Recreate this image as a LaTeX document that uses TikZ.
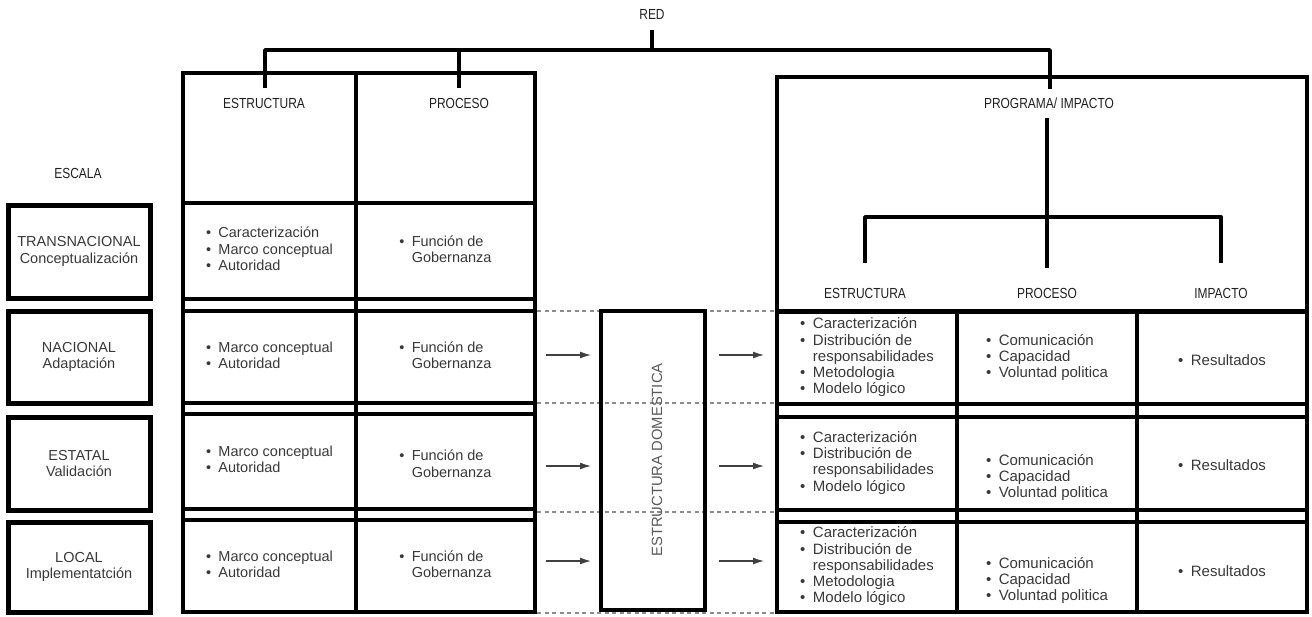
\documentclass[tikz,border=0pt]{standalone}
\usepackage{fontspec}
\setmainfont{Liberation Sans}
\newfontfamily\narrowfont[FakeStretch=0.82]{Liberation Sans}
\usetikzlibrary{arrows.meta}

% a cell given by its corners (x1,y1) and (x2,y2), in pixel units
\newcommand\cellnode[7][]{%
  \node[cell,#1,minimum width={#5-#3},minimum height={#6-#4}]
    (#2) at ({(#3+#5)/2},{(#4+#6)/2}) {#7};}
% bullet lists
\newcommand\blist[1]{\begin{tabular}{@{}l@{\hspace{0.5em}}l@{}}#1\end{tabular}}
\newcommand\bu{\textbullet&}
\newcommand\nx{&}

\begin{document}
\begin{tikzpicture}[x=1pt,y=-1pt,
  cell/.style={draw=black,line width=3.6pt,inner sep=0pt,outer sep=0pt,
    font=\fontsize{14.5}{16.3}\selectfont,text=black!78,align=center},
  rcell/.style={cell,font=\fontsize{15}{16.2}\selectfont},
  scalecell/.style={cell,line width=5pt},
  edge/.style={draw=black,line width=3.6pt},
  tree/.style={draw=black,line width=3.8pt,line join=round},
  head/.style={font=\narrowfont\fontsize{14.6}{16}\selectfont,text=black!88,inner sep=0pt},
  guide/.style={draw=black!45,line width=1.1pt,dash pattern=on 4pt off 3.5pt},
  flow/.style={draw=black!75,line width=1.3pt,-{Latex[length=11pt,width=7pt]}},
]
\useasboundingbox (0,0) rectangle (1312,616);

% ---- headings and network tree ----
\node[head] (red) at (652,14) {RED};
\node[head] (escala) at (78,173) {ESCALA};
\node[head] (hEst) at (264,103) {ESTRUCTURA};
\node[head] (hPro) at (459,103) {PROCESO};
\node[head] (hPrg) at (1049,103) {PROGRAMA/ IMPACTO};

\coordinate (r0) at (652,30);
\coordinate (bar) at (652,50);
\coordinate (tL) at (265,88);
\coordinate (tM) at (459,88);
\coordinate (tR) at (1050,89);

% ---- scale boxes ----
\cellnode[scalecell]{sT}{8}{205}{150}{298}{TRANSNACIONAL\\Conceptualización}
\cellnode[scalecell]{sN}{8}{311}{150}{403}{NACIONAL\\Adaptación}
\cellnode[scalecell]{sE}{8}{417}{150}{510}{ESTATAL\\Validación}
\cellnode[scalecell]{sL}{8}{522}{150}{612}{LOCAL\\Implementatción}

% ---- network structure / process table ----
\cellnode{hE}{183}{73}{356}{203}{}
\cellnode{hP}{356}{73}{535}{203}{}
\cellnode{aE}{183}{203}{356}{299}{\blist{\bu Caracterización\\ \bu Marco conceptual\\ \bu Autoridad}}
\cellnode{aP}{356}{203}{535}{299}{\blist{\bu Función de\\ \nx Gobernanza}}
\cellnode{bE}{183}{311}{356}{403}{\blist{\bu Marco conceptual\\ \bu Autoridad}}
\cellnode{bP}{356}{311}{535}{403}{\blist{\bu Función de\\ \nx Gobernanza}}
\cellnode{cE}{183}{414}{356}{509}{\blist{\bu Marco conceptual\\ \bu Autoridad}}
\cellnode[text depth=0pt]{cP}{356}{414}{535}{509}{\raisebox{4pt}{\blist{\bu Función de\\ \nx Gobernanza}}}
\cellnode{dE}{183}{520}{356}{612}{\blist{\bu Marco conceptual\\ \bu Autoridad}}
\cellnode{dP}{356}{520}{535}{612}{\blist{\bu Función de\\ \nx Gobernanza}}
\draw[edge] (hE.north west) -- (dE.south west);
\draw[edge] (hE.north east) -- (dE.south east);
\draw[edge] (hP.north east) -- (dP.south east);

% ---- guide lines between the tables ----
\foreach \y [count=\i] in {311,403,512,613} {
  \coordinate (ga\i) at (537,\y);
  \coordinate (gb\i) at (775,\y);
  \draw[guide] (ga\i) -- (gb\i);
}

% ---- domestic structure ----
\node[draw=black,line width=3.6pt,minimum width=104,minimum height=299,inner sep=0pt]
  (dom) at (653,460.5) {};
\node[rotate=90,font=\fontsize{14.8}{16}\selectfont,text=black!65] (domt) at (657,460) {ESTRUCTURA DOMESTICA};

\foreach \y [count=\i] in {355,466,561} {
  \coordinate (la\i) at (546,\y); \coordinate (lb\i) at (591,\y);
  \coordinate (ra\i) at (719,\y); \coordinate (rb\i) at (764,\y);
  \draw[flow] (la\i) -- (lb\i);
  \draw[flow] (ra\i) -- (rb\i);
}

% ---- programme / impact table ----
\cellnode{prg}{777}{77}{1307}{311}{}
\node[head] (pE) at (865,293) {ESTRUCTURA};
\node[head] (pP) at (1047,293) {PROCESO};
\node[head] (pI) at (1221,293) {IMPACTO};
\coordinate (pt) at (1047,118);
\coordinate (pb) at (1047,268);
\coordinate (br) at (1047,217);
\coordinate (bL) at (865,263);
\coordinate (bR) at (1221,263);

\cellnode[rcell]{xE}{777}{312}{957}{404}{\blist{\bu Caracterización\\ \bu Distribución de\\ \nx responsabilidades\\ \bu Metodologia\\ \bu Modelo lógico}}
\cellnode[rcell]{xP}{957}{312}{1137}{404}{\blist{\bu Comunicación\\ \bu Capacidad\\ \bu Voluntad politica}}
\cellnode[rcell,text depth=0pt]{xI}{1137}{312}{1307}{404}{\raisebox{-5pt}{\blist{\bu Resultados}}}
\cellnode[rcell]{yE}{777}{417}{957}{510}{\blist{\bu Caracterización\\ \bu Distribución de\\ \nx responsabilidades\\ \bu Modelo lógico}}
\cellnode[rcell,text depth=0pt]{yP}{957}{417}{1137}{510}{\raisebox{-9pt}{\blist{\bu Comunicación\\ \bu Capacidad\\ \bu Voluntad politica}}}
\cellnode[rcell,text depth=0pt]{yI}{1137}{417}{1307}{510}{\raisebox{-3pt}{\blist{\bu Resultados}}}
\cellnode[rcell]{zE}{777}{522}{957}{612}{\blist{\bu Caracterización\\ \bu Distribución de\\ \nx responsabilidades\\ \bu Metodologia\\ \bu Modelo lógico}}
\cellnode[rcell,text depth=0pt]{zP}{957}{522}{1137}{612}{\raisebox{-8pt}{\blist{\bu Comunicación\\ \bu Capacidad\\ \bu Voluntad politica}}}
\cellnode[rcell,text depth=0pt]{zI}{1137}{522}{1307}{612}{\raisebox{-8pt}{\blist{\bu Resultados}}}
\draw[edge] (prg.north west) -- (zE.south west);
\draw[edge] (xE.north east) -- (zE.south east);
\draw[edge] (xP.north east) -- (zP.south east);
\draw[edge] (prg.north east) -- (zI.south east);

% ---- tree connectors ----
\draw[tree] (r0) -- (bar);
\draw[tree] (tL) |- (bar) -| (tR);
\draw[tree] (tM) -- (tM |- bar);
\draw[tree] (pt) -- (pb);
\draw[tree] (bL) |- (br) -| (bR);
\end{tikzpicture}
\end{document}
